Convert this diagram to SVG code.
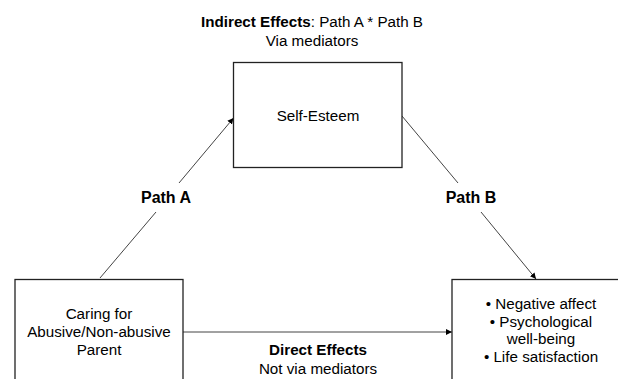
<svg xmlns="http://www.w3.org/2000/svg" width="618" height="379" viewBox="0 0 618 379">
<style>
text{font-family:"Liberation Sans",Arial,sans-serif;font-size:15.2px;fill:#000;text-anchor:middle}
.b{font-weight:bold}
.p{font-size:16px}
.box{fill:#fff;stroke:#222;stroke-width:1.3}
.ln{stroke:#444;stroke-width:1;fill:none}
</style>
<defs>
<marker id="ah" viewBox="0 0 10 10" refX="10" refY="5" markerWidth="6" markerHeight="6" markerUnits="userSpaceOnUse" orient="auto">
<path d="M0,0L10,5L0,10z" fill="#000"/>
</marker>
</defs>
<g id="title">
<text x="312" y="27"><tspan class="b">Indirect Effects</tspan>: Path A * Path B</text>
<text x="312" y="46">Via mediators</text>
</g>
<g id="connectors">
<path class="ln" d="M100,278L156,212"/>
<path class="ln" d="M179,183L233.5,118" marker-end="url(#ah)"/>
<path class="ln" d="M402,116L458,183"/>
<path class="ln" d="M481,212L536,279" marker-end="url(#ah)"/>
<path class="ln" d="M183,332L452,332" marker-end="url(#ah)"/>
<text class="b p" x="166" y="203">Path A</text>
<text class="b p" x="471" y="203">Path B</text>
<text class="b" x="318" y="355">Direct Effects</text>
<text x="318" y="374">Not via mediators</text>
</g>
<g id="self-esteem">
<rect class="box" x="233.5" y="62.5" width="168.5" height="105"/>
<text x="318" y="121">Self-Esteem</text>
</g>
<g id="caring">
<rect class="box" x="15" y="279.5" width="168" height="110"/>
<text x="99" y="319">Caring for</text>
<text x="99" y="337">Abusive/Non-abusive</text>
<text x="99" y="355">Parent</text>
</g>
<g id="outcomes">
<rect class="box" x="452" y="279.5" width="180" height="110"/>
<text x="541" y="309">• Negative affect</text>
<text x="541" y="327">• Psychological</text>
<text x="541" y="344">well-being</text>
<text x="541" y="362">• Life satisfaction</text>
</g>
</svg>
